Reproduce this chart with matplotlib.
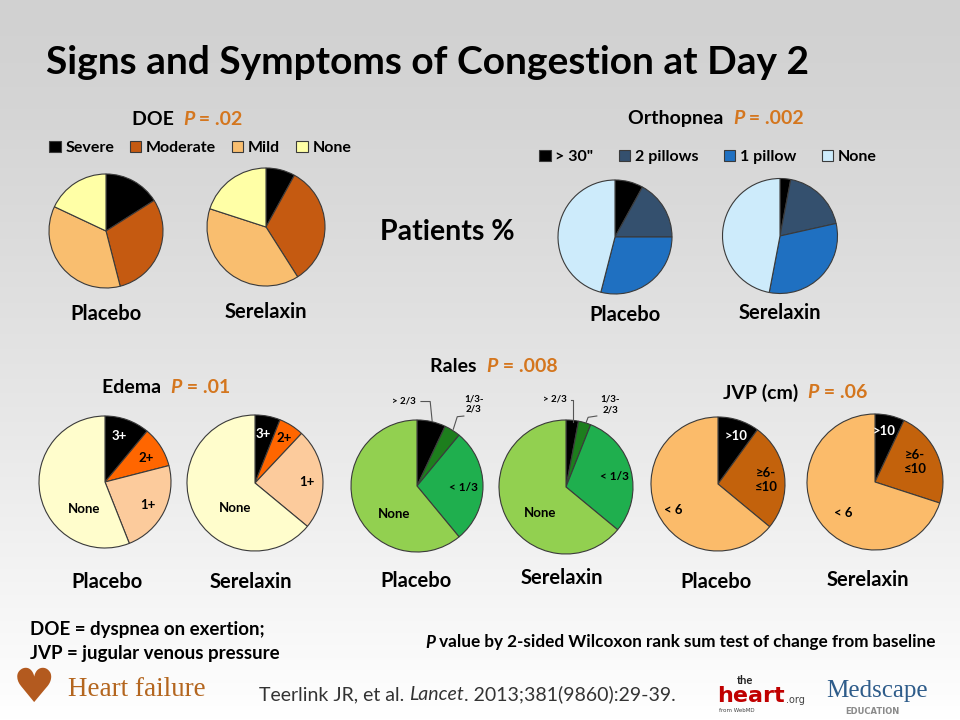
import numpy as np
import matplotlib
matplotlib.use('Agg')
import matplotlib.pyplot as plt

plt.rcParams['font.family'] = ['Lato', 'DejaVu Sans']

# ---- data (percent of patients) ----
doe_labels = ['Severe', 'Moderate', 'Mild', 'None']
doe_placebo = [16, 30, 36, 18]
doe_serelaxin = [8, 33, 39, 20]
doe_colors = ['#000000', '#C55A11', '#F9BE6F', '#FFFFA6']

orth_labels = ['> 30"', '2 pillows', '1 pillow', 'None']
orth_placebo = [8, 17, 29, 46]
orth_serelaxin = [3, 18.5, 31.5, 47]
orth_colors = ['#000000', '#34506E', '#1F70C1', '#CDEBFB']

edema_labels = ['3+', '2+', '1+', 'None']
edema_placebo = [11, 10, 23, 56]
edema_serelaxin = [6, 6, 24, 64]
edema_colors = ['#000000', '#FF6600', '#FCCB9C', '#FFFDCC']

rales_labels = ['> 2/3', '1/3-\n2/3', '< 1/3', 'None']
rales_placebo = [7, 4, 28, 61]
rales_serelaxin = [3, 3, 30, 64]
rales_colors = ['#000000', '#1D7E1D', '#1FAF4E', '#92D050']

jvp_labels = ['>10', '\u22656-\n\u226410', '< 6']
jvp_placebo = [10, 26, 64]
jvp_serelaxin = [7, 23, 70]
jvp_colors = ['#000000', '#C3620C', '#FBBB6A']

PCOL = '#D4761E'
W, H = 960, 720
TFS = 14     # panel title size
GFS = 14.5   # group label size

fig = plt.figure(figsize=(9.6, 7.2), dpi=100)

# background axes in pixel coordinates
bg = fig.add_axes([0, 0, 1, 1])
bg.set_xlim(0, W)
bg.set_ylim(H, 0)
bg.axis('off')
grad = np.linspace(0, 1, 256).reshape(-1, 1)
top, bottom = np.array([0.82, 0.82, 0.82]), np.array([1.0, 1.0, 1.0])
img = top + (bottom - top) * grad[:, :, None] ** 1.3
bg.imshow(img, extent=[0, W, H, 0], aspect='auto', zorder=0)


def draw_pie(vals, colors, cx, cy, r, texts=None):
    pad = 1.04
    ax = fig.add_axes([(cx - r * pad) / W, 1 - (cy + r * pad) / H,
                       2 * r * pad / W, 2 * r * pad / H])
    wedges, _ = ax.pie(vals, colors=colors, startangle=90, counterclock=False,
                       wedgeprops=dict(edgecolor='#3A3A3A', linewidth=0.8))
    ax.set_xlim(-pad, pad)
    ax.set_ylim(-pad, pad)
    ax.set_aspect('equal')
    ax.axis('off')
    if texts:
        for (s, x, y, c, fs) in texts:
            ax.text(x, y, s, color=c, fontsize=fs, fontweight='bold',
                    ha='center', va='center', linespacing=1.2)
    return ax, wedges


def rich(x, y, pieces, fs, ha='left'):
    r = fig.canvas.get_renderer()
    objs = []
    cur = x
    for s, kw in pieces:
        t = bg.text(cur, y, s, fontsize=fs, va='center_baseline', ha='left', **kw)
        bb = t.get_window_extent(r)
        cur += bb.width
        objs.append(t)
    if ha == 'center':
        shift = (cur - x) / 2
        for t in objs:
            t.set_x(t.get_position()[0] - shift)


def ptitle(x, y, name, pval):
    rich(x, y, [(name + '  ', dict(fontweight='bold')),
                ('P', dict(fontweight='bold', style='italic', color=PCOL)),
                (' = ' + pval, dict(fontweight='bold', color=PCOL))], TFS, ha='center')


def group(x, y, s):
    bg.text(x, y, s, fontsize=GFS, fontweight='bold', ha='center', va='center')


# ---- title ----
bg.text(46, 62, 'Signs and Symptoms of Congestion at Day 2', fontsize=28,
        fontweight='bold', va='center', ha='left')
bg.text(447, 232, 'Patients %', fontsize=20.5, fontweight='bold', ha='center', va='center')

# ---- DOE ----
ptitle(187, 118, 'DOE', '.02')
ax, wd = draw_pie(doe_placebo, doe_colors, 106, 231, 57)
draw_pie(doe_serelaxin, doe_colors, 266, 227, 59)
fig.legend(wd, doe_labels, ncol=4, frameon=False, loc='center left',
           bbox_to_anchor=(35 / W, 1 - 148 / H),
           prop=dict(weight='bold', size=11.5), handlelength=0.7, handleheight=0.7,
           handletextpad=0.3, columnspacing=1.0)
group(106, 314, 'Placebo')
group(266, 312, 'Serelaxin')

# ---- Orthopnea ----
ptitle(716, 117, 'Orthopnea', '.002')
ax, wd = draw_pie(orth_placebo, orth_colors, 615, 237, 57)
draw_pie(orth_serelaxin, orth_colors, 780, 236, 57.5)
fig.legend(wd, orth_labels, ncol=4, frameon=False, loc='center left',
           bbox_to_anchor=(525 / W, 1 - 157 / H),
           prop=dict(weight='bold', size=11.5), handlelength=0.7, handleheight=0.7,
           handletextpad=0.3, columnspacing=1.6)
group(625, 315, 'Placebo')
group(780, 313, 'Serelaxin')

# ---- Edema ----
ptitle(166, 386, 'Edema', '.01')
fsl = 9.5
draw_pie(edema_placebo, edema_colors, 105, 482, 66,
         [(edema_labels[0], 0.21, 0.70, 'white', fsl),
          (edema_labels[1], 0.62, 0.36, 'black', fsl),
          (edema_labels[2], 0.65, -0.35, 'black', fsl),
          (edema_labels[3], -0.32, -0.41, 'black', fsl)])
draw_pie(edema_serelaxin, edema_colors, 255, 483, 68,
         [(edema_labels[0], 0.12, 0.72, 'white', fsl),
          (edema_labels[1], 0.43, 0.66, 'black', fsl),
          (edema_labels[2], 0.76, 0.01, 'black', fsl),
          (edema_labels[3], -0.29, -0.37, 'black', fsl)])
group(107, 582, 'Placebo')
group(251, 582, 'Serelaxin')

# ---- Rales ----
ptitle(494, 365, 'Rales', '.008')
ax, _ = draw_pie(rales_placebo, rales_colors, 417, 486, 66,
                 [(rales_labels[0], -0.20, 1.29, 'black', 7),
                  (rales_labels[1], 0.86, 1.24, 'black', 7),
                  (rales_labels[2], 0.70, -0.02, 'black', 8.5),
                  (rales_labels[3], -0.35, -0.42, 'black', fsl)])
ax.plot([0.06, 0.20, 0.23], [1.28, 1.28, 0.98], color='#555555', lw=0.8, clip_on=False)
ax.plot([0.55, 0.61, 0.71], [0.86, 1.05, 1.06], color='#555555', lw=0.8, clip_on=False)
ax, _ = draw_pie(rales_serelaxin, rales_colors, 566, 487, 67,
                 [(rales_labels[0], -0.17, 1.31, 'black', 7),
                  (rales_labels[1], 0.66, 1.23, 'black', 7),
                  (rales_labels[2], 0.72, 0.15, 'black', 8.5),
                  (rales_labels[3], -0.39, -0.39, 'black', fsl)])
ax.plot([0.07, 0.10, 0.10], [1.30, 1.30, 0.97], color='#555555', lw=0.8, clip_on=False)
ax.plot([0.30, 0.33, 0.46], [0.96, 1.04, 1.06], color='#555555', lw=0.8, clip_on=False)
group(416, 581, 'Placebo')
group(562, 578, 'Serelaxin')

# ---- JVP ----
ptitle(795, 391, 'JVP (cm)', '.06')
draw_pie(jvp_placebo, jvp_colors, 718, 484, 67,
         [(jvp_labels[0], 0.27, 0.72, 'white', fsl),
          (jvp_labels[1], 0.72, 0.06, 'black', fsl),
          (jvp_labels[2], -0.67, -0.39, 'black', fsl)])
draw_pie(jvp_serelaxin, jvp_colors, 875, 482, 68,
         [(jvp_labels[0], 0.13, 0.75, 'white', fsl),
          (jvp_labels[1], 0.59, 0.29, 'black', fsl),
          (jvp_labels[2], -0.47, -0.46, 'black', fsl)])
group(716, 582, 'Placebo')
group(868, 580, 'Serelaxin')

# ---- footnotes ----
bg.text(30, 630, 'DOE = dyspnea on exertion;', fontsize=13.5, fontweight='bold', va='center')
bg.text(30, 653, 'JVP = jugular venous pressure', fontsize=13.5, fontweight='bold', va='center')
rich(425, 641, [('P', dict(fontweight='bold', style='italic')),
                (' value by 2-sided Wilcoxon rank sum test of change from baseline',
                 dict(fontweight='bold'))], 12.3)
rich(259, 693, [('Teerlink JR, et al. ', dict(color='#333333')),
                ('Lancet', dict(color='#333333', style='italic')),
                ('. 2013;381(9860):29-39.', dict(color='#333333'))], 14)

# ---- logos (text stand-ins) ----
bg.text(34, 690, '\u2665', family='DejaVu Sans', fontsize=34, color='#B35A1F',
        ha='center', va='center')
bg.text(68, 690, 'Heart failure', family='Liberation Serif', fontsize=19.5,
        color='#B4661F', va='center')
bg.text(737, 681, 'the', fontsize=8, fontweight='bold', color='#222222', va='center')
bg.text(717, 696, 'heart', family='DejaVu Sans', fontsize=16, fontweight='bold',
        color='#C00000', va='center')
bg.text(786, 700, '.org', family='DejaVu Sans', fontsize=7, color='#444444', va='center')
bg.text(719, 711, 'from WebMD', family='DejaVu Sans', fontsize=4, color='#444444', va='center')
bg.text(826, 691, 'Medscape', family='Liberation Serif', fontsize=18,
        color='#2E5C8A', va='center')
bg.text(845, 711, 'EDUCATION', family='DejaVu Sans', fontsize=6, fontweight='bold',
        color='#8A8A8A', va='center')

fig.savefig('out.png', dpi=100)
